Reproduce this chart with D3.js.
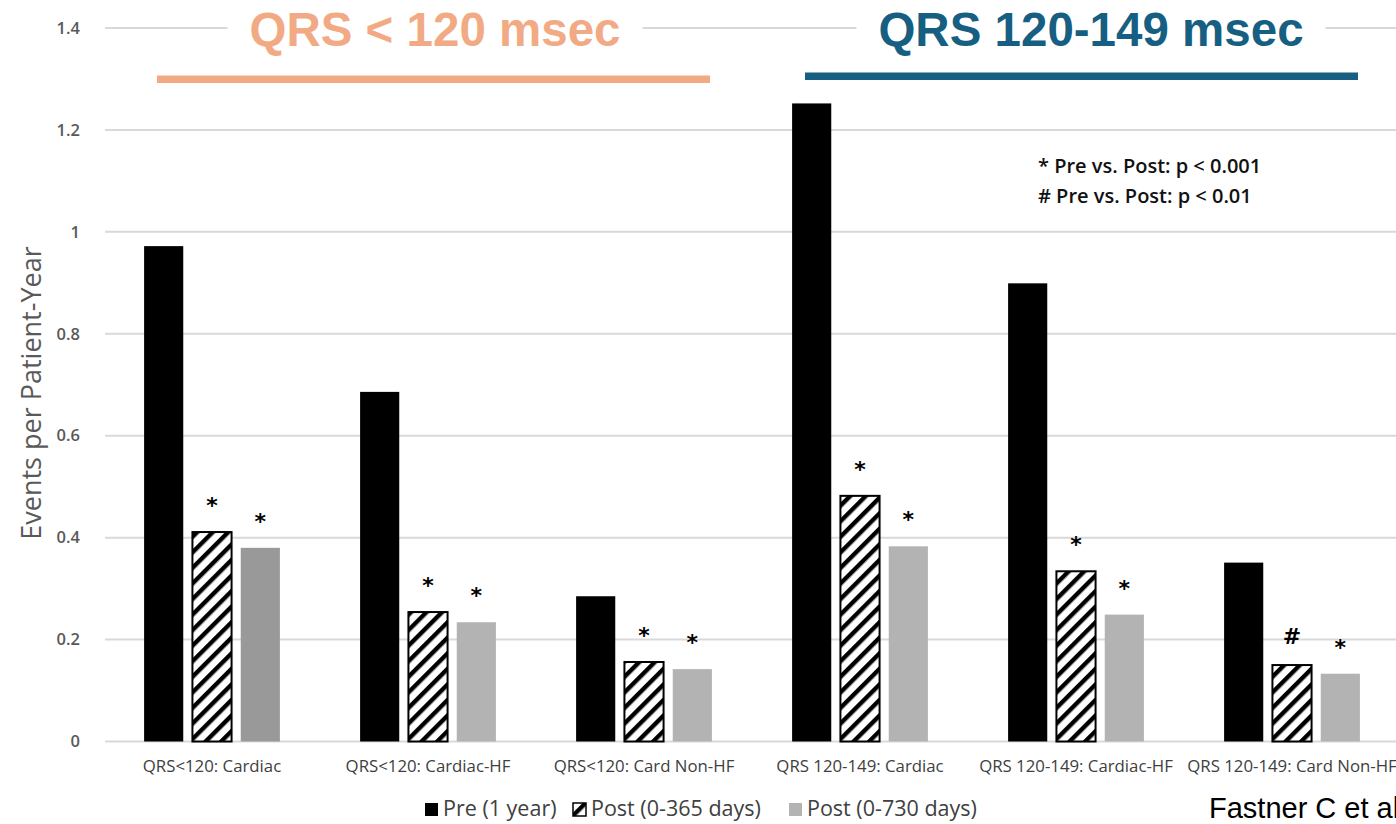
<!DOCTYPE html>
<html>
<head>
<meta charset="utf-8">
<script src="https://cdn.jsdelivr.net/npm/d3@7"></script>
<style>
  html, body { margin: 0; padding: 0; background: #fff; overflow: hidden; }
  svg { display: block; }
</style>
</head>
<body>
<svg id="chart" width="1396" height="824"></svg>
<script>
// Event rates per patient-year, before and after the procedure
const categories = [
  "QRS<120: Cardiac",
  "QRS<120: Cardiac-HF",
  "QRS<120: Card Non-HF",
  "QRS 120-149: Cardiac",
  "QRS 120-149: Cardiac-HF",
  "QRS 120-149: Card Non-HF"
];
const seriesNames = ["Pre (1 year)", "Post (0-365 days)", "Post (0-730 days)"];
const preValues     = [0.972, 0.686, 0.285, 1.252, 0.899, 0.351];
const post365Values = [0.411, 0.254, 0.156, 0.482, 0.334, 0.150];
const post730Values = [0.380, 0.234, 0.142, 0.383, 0.249, 0.133];
const post365Marks  = ["*", "*", "*", "*", "*", "#"];
const post730Marks  = ["*", "*", "*", "*", "*", "*"];
const yTicks = [0, 0.2, 0.4, 0.6, 0.8, 1, 1.2, 1.4];
const groupTitles = ["QRS < 120 msec", "QRS 120-149 msec"];
const noteLines = ["* Pre vs. Post: p < 0.001", "# Pre vs. Post: p < 0.01"];
const yTitle = "Events per Patient-Year";
const citation = "Fastner C et al.";

const svg = d3.select("#chart");
const W = 1396, H = 824;
const plotLeft = 104, plotRight = 1400, plotTop = 28, plotBottom = 741.5;

const x0 = d3.scaleBand().domain(categories).range([plotLeft, plotRight]).paddingInner(0).paddingOuter(0);
const x1 = d3.scaleBand().domain(seriesNames).range([0, x0.bandwidth()])
  .paddingInner(0.19).paddingOuter(0.83);
const y = d3.scaleLinear().domain([0, 1.4]).range([plotBottom, plotTop]);

// hatch pattern for the first post-period series
const defs = svg.append("defs");
const pat = defs.append("pattern")
  .attr("id", "hatch")
  .attr("patternUnits", "userSpaceOnUse")
  .attr("width", 11).attr("height", 11)
  .attr("patternTransform", "rotate(45)");
pat.append("rect").attr("width", 11).attr("height", 11).attr("fill", "#fff");
pat.append("rect").attr("x", 0).attr("y", 0).attr("width", 4.4).attr("height", 11).attr("fill", "#000");

// gridlines
const grid = svg.append("g");
grid.selectAll("line").data(yTicks).join("line")
  .attr("x1", plotLeft + 1).attr("x2", W)
  .attr("y1", d => y(d)).attr("y2", d => y(d))
  .attr("stroke", "#d9d9d9").attr("stroke-width", 2);

// y axis labels
const yAxis = d3.axisLeft(y).tickValues(yTicks).tickSize(0).tickPadding(0)
  .tickFormat(d => d3.format("")(+d.toFixed(1)));
const yg = svg.append("g").attr("transform", `translate(80,0)`).call(yAxis);
yg.select(".domain").remove();
yg.selectAll("text")
  .attr("font-family", "'Open Sans', sans-serif")
  .attr("font-weight", 600)
  .attr("font-size", 16.5)
  .attr("fill", "#595959");

svg.append("text")
  .attr("transform", `translate(41,393) rotate(-90)`)
  .attr("text-anchor", "middle")
  .attr("font-family", "'Open Sans', sans-serif")
  .attr("font-size", 27)
  .attr("fill", "#595959")
  .text(yTitle);

// bars
const seriesValues = [preValues, post365Values, post730Values];
const post730Fill = i => (i === 0 ? "#999999" : "#b3b3b3");
const fills = [() => "#000", () => "url(#hatch)", post730Fill];

const groups = svg.append("g").selectAll("g").data(categories).join("g")
  .attr("transform", d => `translate(${x0(d)},0)`);

seriesNames.forEach((s, si) => {
  groups.append("rect")
    .attr("x", x1(s))
    .attr("width", x1.bandwidth())
    .attr("y", (d, i) => y(seriesValues[si][i]))
    .attr("height", (d, i) => y(0) - y(seriesValues[si][i]))
    .attr("fill", (d, i) => fills[si](i))
    .attr("stroke", si === 1 ? "#000" : "none")
    .attr("stroke-width", si === 1 ? 2 : 0);
});

// significance marks
const markSets = [[seriesNames[1], post365Values, post365Marks], [seriesNames[2], post730Values, post730Marks]];
markSets.forEach(([s, vals, marks]) => {
  groups.append("text")
    .attr("x", x1(s) + x1.bandwidth() / 2)
    .attr("y", (d, i) => y(vals[i]) - (marks[i] === "#" ? 21 : 19))
    .attr("text-anchor", "middle")
    .attr("font-family", "'DejaVu Sans', sans-serif")
    .attr("font-weight", "bold")
    .attr("font-size", 22)
    .attr("fill", "#000")
    .text((d, i) => marks[i]);
});

// category labels
const xAxis = d3.axisBottom(x0).tickSize(0).tickPadding(0);
const xg = svg.append("g").attr("transform", `translate(0,${plotBottom + 19})`).call(xAxis);
xg.select(".domain").remove();
xg.selectAll("text")
  .attr("font-family", "'Open Sans', sans-serif")
  .attr("font-size", 16.8)
  .attr("fill", "#404040");

// group titles with underline bars
const titleColors = ["#f2aa84", "#175f82"];
const titleSpans = [[0, 2], [3, 5]];
titleSpans.forEach(([a, b], k) => {
  const cx = k === 0 ? 435 : 1091;
  const g = svg.append("g");
  const t = g.append("text")
    .attr("x", cx).attr("y", 46)
    .attr("text-anchor", "middle")
    .attr("font-family", "'Liberation Sans', Arial, sans-serif")
    .attr("font-weight", "bold")
    .attr("font-size", 47.5)
    .attr("fill", titleColors[k])
    .text(groupTitles[k]);
  const bb = t.node().getBBox();
  g.insert("rect", "text")
    .attr("x", bb.x - 22).attr("y", bb.y)
    .attr("width", bb.width + 44).attr("height", bb.height)
    .attr("fill", "#fff");
  const x1s = x0(categories[a]) + 53, x2s = x0(categories[b]) + x0.bandwidth() - 42;
  svg.append("rect")
    .attr("x", x1s).attr("y", k === 0 ? 75.5 : 72.5)
    .attr("width", x2s - x1s).attr("height", 7.5)
    .attr("fill", titleColors[k]);
});

// significance note
svg.append("g").selectAll("text").data(noteLines).join("text")
  .attr("x", 1038).attr("y", (d, i) => 173 + i * 30)
  .attr("font-family", "'Open Sans', sans-serif")
  .attr("font-weight", 600)
  .attr("font-size", 20)
  .attr("fill", "#111")
  .text(d => d);

// legend
const legend = svg.append("g").attr("transform", "translate(0,810)");
const legendX = [425, 573, 789];
const legendFill = ["#000", "url(#hatch)", "#b3b3b3"];
seriesNames.forEach((s, i) => {
  legend.append("rect")
    .attr("x", legendX[i]).attr("y", -7).attr("width", 13).attr("height", 13)
    .attr("fill", legendFill[i])
    .attr("stroke", i === 1 ? "#000" : "none").attr("stroke-width", 1.5);
  legend.append("text")
    .attr("x", legendX[i] + 18).attr("y", 0)
    .attr("dominant-baseline", "middle")
    .attr("font-family", "'Open Sans', sans-serif")
    .attr("font-size", 21.5)
    .attr("fill", "#404040")
    .text(s);
});

svg.append("text")
  .attr("x", 1209).attr("y", 818)
  .attr("font-family", "'Liberation Sans', Arial, sans-serif")
  .attr("font-size", 29)
  .attr("fill", "#000")
  .text(citation);
</script>
</body>
</html>
